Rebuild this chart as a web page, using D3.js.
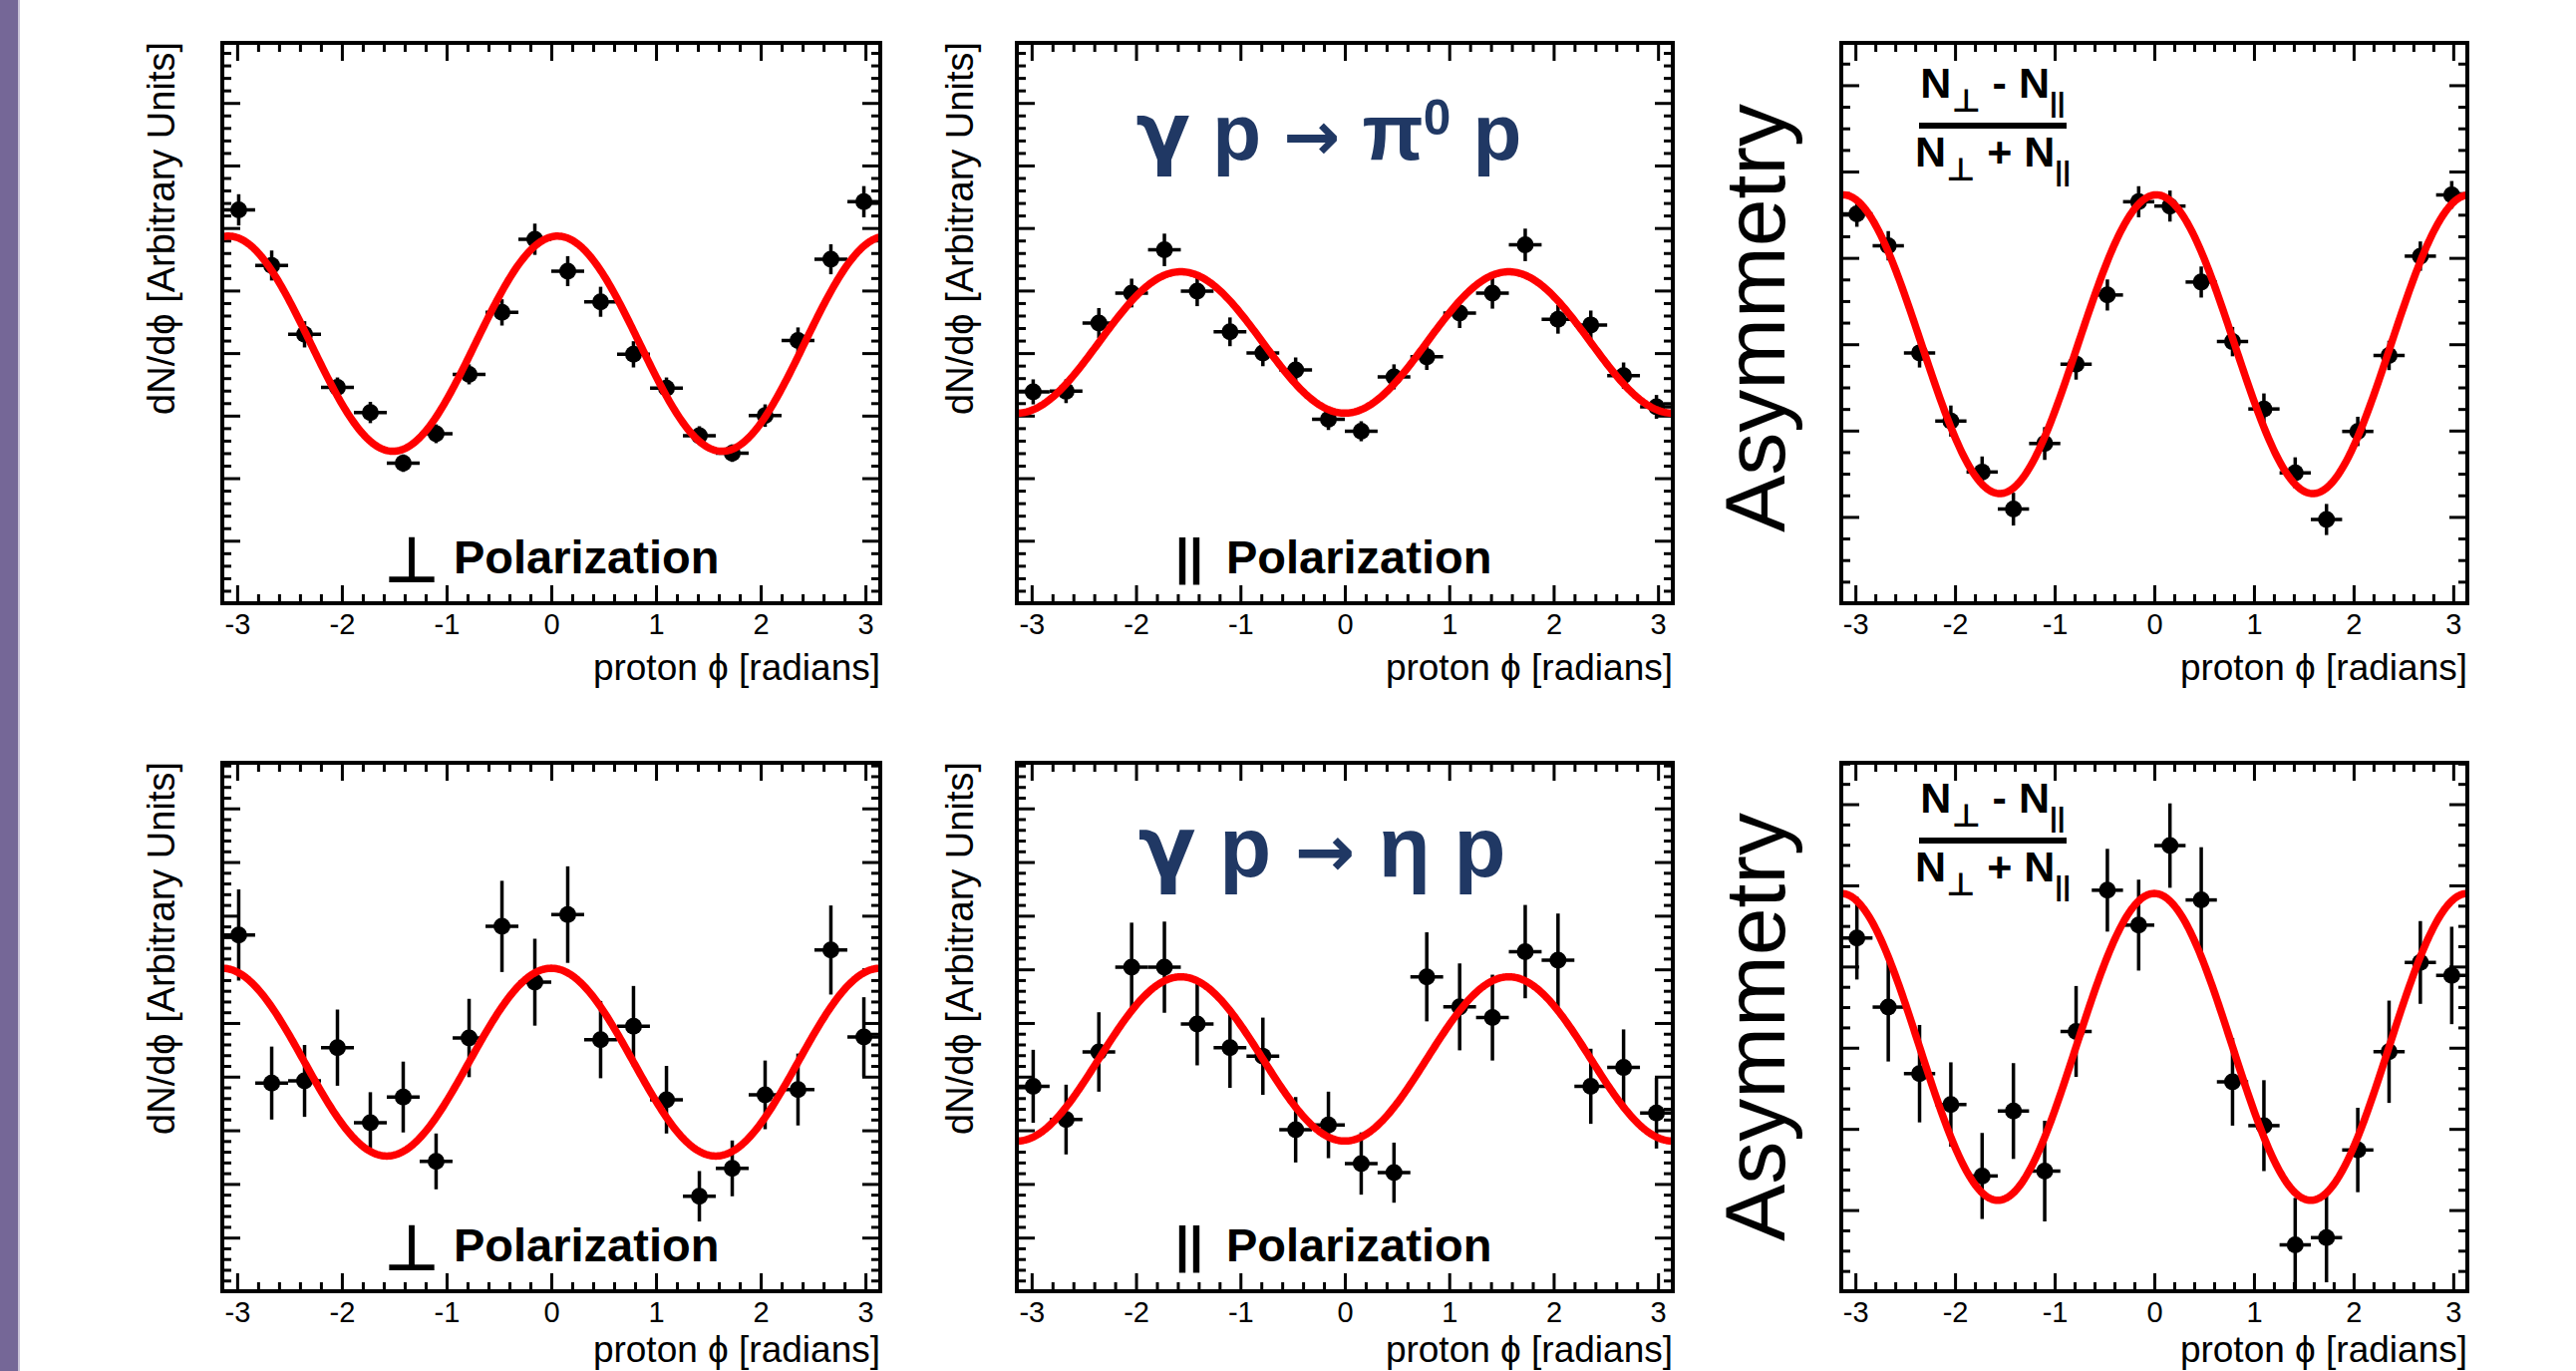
<!DOCTYPE html>
<html>
<head>
<meta charset="utf-8">
<script src="https://cdn.jsdelivr.net/npm/d3@7"></script>
<style>
  html, body { margin: 0; padding: 0; background: #fff; }
  svg { display: block; }
  text { font-family: "Liberation Sans", Arial, Helvetica, sans-serif; }
</style>
</head>
<body>
<svg id="chart" width="2584" height="1375"></svg>
<script>
// bin centres of the proton phi histograms (20 bins over [-pi, pi])
var phiCenters = [-2.985, -2.670, -2.356, -2.042, -1.728, -1.414, -1.100, -0.785, -0.471, -0.157,
                  0.157, 0.471, 0.785, 1.100, 1.414, 1.728, 2.042, 2.356, 2.670, 2.985];
var binHalfWidth = 0.157;
var xTicks = [-3, -2, -1, 0, 1, 2, 3];
var xTickLabels = ["-3", "-2", "-1", "0", "1", "2", "3"];

// gamma p -> pi0 p
var pi0PerpY   = [6.29, 5.40, 4.30, 3.45, 3.05, 2.24, 2.71, 3.66, 4.65, 5.82, 5.31, 4.82, 3.98, 3.44, 2.68, 2.40, 3.00, 4.20, 5.50, 6.42];
var pi0PerpErr = [0.25, 0.24, 0.21, 0.16, 0.17, 0.14, 0.15, 0.16, 0.21, 0.25, 0.24, 0.24, 0.21, 0.17, 0.15, 0.14, 0.18, 0.21, 0.24, 0.25];
var pi0ParaY   = [3.38, 3.39, 4.48, 4.96, 5.65, 4.99, 4.34, 4.00, 3.73, 2.94, 2.75, 3.62, 3.94, 4.64, 4.96, 5.73, 4.54, 4.45, 3.64, 3.14];
var pi0ParaErr = [0.20, 0.19, 0.24, 0.23, 0.26, 0.24, 0.23, 0.21, 0.20, 0.17, 0.16, 0.20, 0.21, 0.24, 0.25, 0.26, 0.23, 0.23, 0.21, 0.19];
var pi0AsymY   = [4.51, 4.14, 2.90, 2.11, 1.52, 1.09, 1.85, 2.77, 3.57, 4.65, 4.60, 3.72, 3.03, 2.25, 1.51, 0.97, 1.99, 2.87, 4.02, 4.73];
var pi0AsymErr = [0.15, 0.17, 0.17, 0.18, 0.18, 0.19, 0.19, 0.18, 0.18, 0.18, 0.18, 0.18, 0.17, 0.18, 0.18, 0.18, 0.17, 0.17, 0.17, 0.16];

// gamma p -> eta p
var etaPerpY   = [6.64, 3.88, 3.92, 4.54, 3.14, 3.62, 2.42, 4.72, 6.80, 5.76, 7.02, 4.69, 4.94, 3.57, 1.77, 2.29, 3.66, 3.76, 6.36, 4.74];
var etaPerpErr = [0.85, 0.68, 0.67, 0.71, 0.57, 0.66, 0.52, 0.73, 0.85, 0.81, 0.90, 0.72, 0.75, 0.63, 0.47, 0.52, 0.64, 0.67, 0.83, 0.74];
var etaParaY   = [3.82, 3.20, 4.46, 6.04, 6.04, 4.98, 4.54, 4.38, 3.01, 3.10, 2.38, 2.21, 5.86, 5.30, 5.10, 6.33, 6.17, 3.82, 4.17, 3.32];
var etaParaErr = [0.68, 0.65, 0.74, 0.83, 0.85, 0.77, 0.75, 0.72, 0.61, 0.62, 0.58, 0.56, 0.83, 0.81, 0.80, 0.87, 0.87, 0.70, 0.71, 0.66];
var etaAsymY   = [4.35, 3.50, 2.68, 2.30, 1.42, 2.22, 1.48, 3.20, 4.94, 4.51, 5.49, 4.82, 2.58, 2.04, 0.57, 0.66, 1.74, 2.95, 4.05, 3.89];
var etaAsymErr = [0.51, 0.67, 0.60, 0.52, 0.53, 0.59, 0.62, 0.56, 0.51, 0.56, 0.52, 0.65, 0.54, 0.56, 0.58, 0.55, 0.52, 0.63, 0.51, 0.60];

// cos(2phi) fits: offset + amplitude * cos(2 (phi - phase))
// order: pi0 perp, pi0 para, pi0 asym, eta perp, eta para, eta asym
var fitOffset    = [4.15, 4.17, 3.00, 4.27, 4.33, 3.01];
var fitAmplitude = [1.72, -1.13, 1.73, 1.75, -1.53, 1.89];
var fitPhase     = [0.06, 0.0, 0.02, 0.0, 0.0, 0.0];

// y ranges (arbitrary units, unlabelled) and minor tick step
var yMax = [8.96, 8.96, 6.49, 9.85, 9.85, 6.51];
var yMinorStep = [0.2, 0.2, 0.25, 0.2, 0.2, 0.25];

var seriesY = [pi0PerpY, pi0ParaY, pi0AsymY, etaPerpY, etaParaY, etaAsymY];
var seriesErr = [pi0PerpErr, pi0ParaErr, pi0AsymErr, etaPerpErr, etaParaErr, etaAsymErr];

var svg = d3.select("#chart");
svg.append("rect").attr("width", 2584).attr("height", 1375).attr("fill", "#fff");
svg.append("rect").attr("width", 18).attr("height", 1375).attr("fill", "#756797");
svg.append("line").attr("x1", 19).attr("x2", 19).attr("y1", 0).attr("y2", 1375)
    .attr("stroke", "#c9c3d8").attr("stroke-width", 2);

var cols = [{left: 223, right: 883}, {left: 1020, right: 1678}, {left: 1847, right: 2475}];
var rows = [{top: 43, bottom: 605, label: 682}, {top: 765, bottom: 1295, label: 1366}];

var drawPanel = function (idx) {
    let col = cols[idx % 3], row = rows[Math.floor(idx / 3)];
    let w = col.right - col.left, h = row.bottom - row.top;
    let g = svg.append("g").attr("transform", "translate(" + col.left + "," + row.top + ")");

    let x = d3.scaleLinear().domain([-Math.PI, Math.PI]).range([0, w]);
    let y = d3.scaleLinear().domain([0, yMax[idx]]).range([h, 0]);

    let xMinor = d3.range(-15, 16).map(k => k * 0.2)
        .filter(v => Math.abs(v) < Math.PI && Math.abs(v - Math.round(v)) > 1e-6);
    let yMajor = d3.range(0, Math.floor(yMax[idx]) + 1);
    let nMinor = Math.floor(yMax[idx] / yMinorStep[idx] + 1e-6);
    let yMinorTicks = d3.range(0, nMinor + 1).map(k => k * yMinorStep[idx])
        .filter(v => Math.abs(v - Math.round(v)) > 1e-6);

    let axes = [
        [d3.axisBottom(x).tickValues(xTicks).tickFormat((d, i) => xTickLabels[i]).tickSizeInner(-18).tickPadding(10), 0, h],
        [d3.axisBottom(x).tickValues(xMinor).tickFormat("").tickSizeInner(-9), 0, h],
        [d3.axisBottom(x).tickValues(xTicks).tickFormat("").tickSizeInner(18), 0, 0],
        [d3.axisBottom(x).tickValues(xMinor).tickFormat("").tickSizeInner(9), 0, 0],
        [d3.axisRight(y).tickValues(yMajor).tickFormat("").tickSizeInner(18), 0, 0],
        [d3.axisRight(y).tickValues(yMinorTicks).tickFormat("").tickSizeInner(9), 0, 0],
        [d3.axisLeft(y).tickValues(yMajor).tickFormat("").tickSizeInner(18), w, 0],
        [d3.axisLeft(y).tickValues(yMinorTicks).tickFormat("").tickSizeInner(9), w, 0]
    ];
    axes.forEach(a => {
        let ag = g.append("g").attr("transform", "translate(" + a[1] + "," + a[2] + ")").call(a[0]);
        ag.select(".domain").remove();
        ag.selectAll("line").attr("stroke", "#000").attr("stroke-width", 3);
        ag.selectAll("text").attr("font-size", 29).attr("fill", "#000")
            .attr("font-family", "Liberation Sans, Arial, sans-serif");
    });

    let clipId = "clip" + idx;
    g.append("clipPath").attr("id", clipId).append("rect").attr("width", w).attr("height", h);
    let plot = g.append("g").attr("clip-path", "url(#" + clipId + ")");

    let pts = phiCenters.map((p, i) => ({phi: p, v: seriesY[idx][i], e: seriesErr[idx][i]}));
    let pg = plot.selectAll("g.pt").data(pts).enter().append("g").attr("class", "pt");
    pg.append("line")
        .attr("x1", d => x(d.phi)).attr("x2", d => x(d.phi))
        .attr("y1", d => y(d.v - d.e)).attr("y2", d => y(d.v + d.e))
        .attr("stroke", "#000").attr("stroke-width", 3.5);
    pg.append("line")
        .attr("x1", d => x(d.phi - binHalfWidth)).attr("x2", d => x(d.phi + binHalfWidth))
        .attr("y1", d => y(d.v)).attr("y2", d => y(d.v))
        .attr("stroke", "#000").attr("stroke-width", 3.5);
    pg.append("circle")
        .attr("cx", d => x(d.phi)).attr("cy", d => y(d.v)).attr("r", 8.5).attr("fill", "#000");

    let curveX = d3.range(0, 401).map(k => -Math.PI + k * 2 * Math.PI / 400);
    let fit = phi => fitOffset[idx] + fitAmplitude[idx] * Math.cos(2 * (phi - fitPhase[idx]));
    plot.append("path")
        .datum(curveX)
        .attr("d", d3.line().x(d => x(d)).y(d => y(fit(d))))
        .attr("fill", "none").attr("stroke", "#ff0000").attr("stroke-width", 7.5)
        .attr("stroke-linejoin", "round");

    g.append("rect").attr("width", w).attr("height", h)
        .attr("fill", "none").attr("stroke", "#000").attr("stroke-width", 4);

    g.append("text")
        .attr("x", w).attr("y", row.label - row.top)
        .attr("text-anchor", "end").attr("font-size", 37).attr("fill", "#000")
        .text("proton \u03d5 [radians]");

    return g;
};

for (let i = 0; i < 6; i++) drawPanel(i);

// y titles
[175, 976].forEach(cx => {
    rows.forEach(r => {
        svg.append("text")
            .attr("transform", "translate(" + cx + "," + (r.top - 1) + ") rotate(-90)")
            .attr("text-anchor", "end").attr("font-size", 38).attr("fill", "#000")
            .text("dN/d\u03d5 [Arbitrary Units]");
    });
});
[319, 1030].forEach(cy => {
    svg.append("text")
        .attr("transform", "translate(1790," + cy + ") rotate(-90)")
        .attr("text-anchor", "middle").attr("font-size", 86).attr("fill", "#000")
        .text("Asymmetry");
});

// polarization labels
rows.forEach(r => {
    let base = r.bottom - 30;
    svg.append("text").attr("x", 413).attr("y", base + 8).attr("text-anchor", "middle")
        .attr("font-family", "DejaVu Sans").attr("font-weight", "bold")
        .attr("font-size", 62).attr("fill", "#000").text("\u22a5");
    svg.append("text").attr("x", 455).attr("y", base).attr("font-weight", "bold")
        .attr("font-size", 47).attr("fill", "#000").text("Polarization");
    svg.append("text").attr("x", 1193).attr("y", base).attr("text-anchor", "middle")
        .attr("font-weight", "bold").attr("font-size", 50).attr("fill", "#000").text("||");
    svg.append("text").attr("x", 1230).attr("y", base).attr("font-weight", "bold")
        .attr("font-size", 47).attr("fill", "#000").text("Polarization");
});

// reaction titles
var addTitle = function (cx, by, size, rest, sup) {
    let t = svg.append("text").attr("x", cx).attr("y", by).attr("text-anchor", "middle")
        .attr("font-weight", "bold").attr("font-size", size).attr("fill", "#203864");
    t.append("tspan").attr("font-family", "DejaVu Sans").text("\u03b3");
    t.append("tspan").text(" p ");
    t.append("tspan").attr("font-family", "DejaVu Sans").attr("font-size", size * 0.85).text("\u2192");
    t.append("tspan").text(" " + rest);
    if (sup) {
        t.append("tspan").attr("font-size", size * 0.62).attr("dy", -size * 0.31).text(sup);
        t.append("tspan").attr("dy", size * 0.31).text(" p");
    } else {
        t.append("tspan").text(" p");
    }
};
addTitle(1333, 160, 80, "\u03c0", "0");
addTitle(1326, 879, 85, "\u03b7", null);

// asymmetry fraction
var addFracLine = function (by, op) {
    let s = svg.append("text").attr("x", 1999).attr("y", by).attr("text-anchor", "middle")
        .attr("font-weight", "bold").attr("font-size", 43).attr("fill", "#000");
    s.append("tspan").text("N");
    s.append("tspan").attr("font-family", "DejaVu Sans").attr("font-size", 32).attr("dy", 14).text("\u22a5");
    s.append("tspan").attr("dy", -14).text(op + "N");
    s.append("tspan").attr("font-size", 28).attr("dy", 14).text("||");
};
[126, 843].forEach(by => {
    addFracLine(by - 28, " - ");
    svg.append("line").attr("x1", 1925).attr("x2", 2073).attr("y1", by).attr("y2", by)
        .attr("stroke", "#000").attr("stroke-width", 6);
    addFracLine(by + 41, " + ");
});
</script>
</body>
</html>
